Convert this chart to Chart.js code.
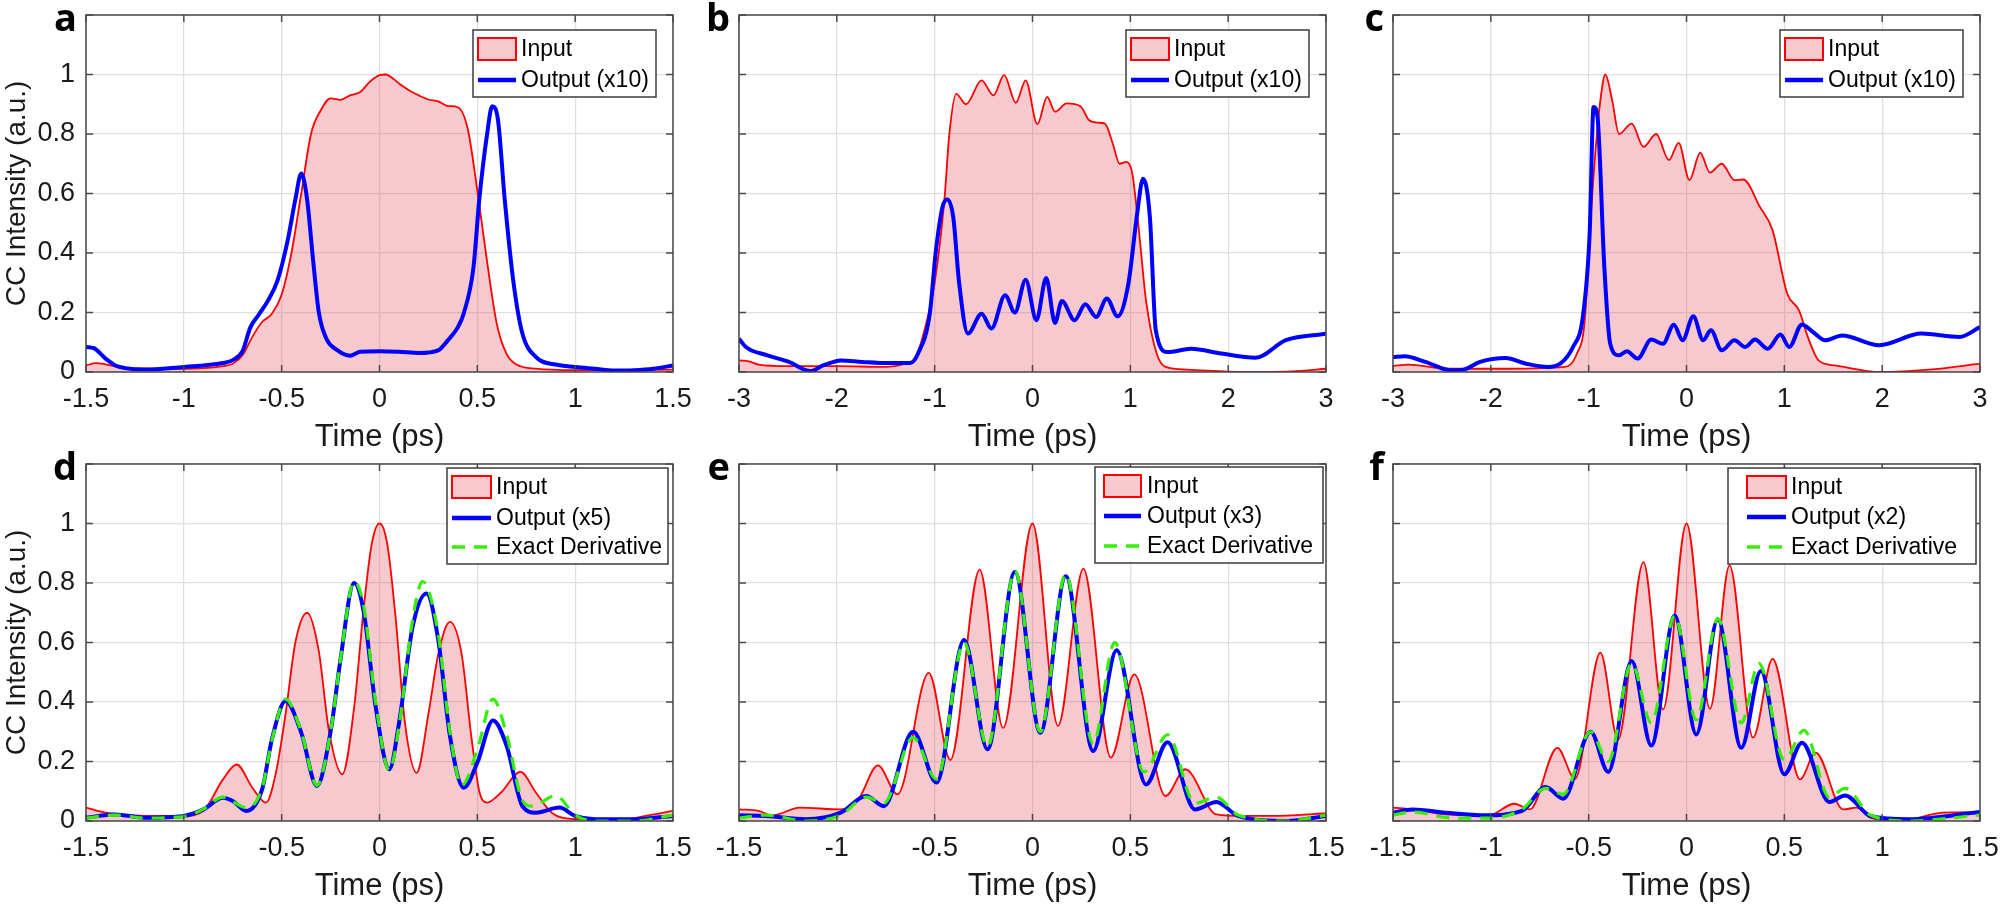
<!DOCTYPE html>
<html>
<head>
<meta charset="utf-8">
<script src="https://cdn.jsdelivr.net/npm/chart.js@4.4.1/dist/chart.umd.min.js"></script>
<style>
  body { margin: 0; background: #fff; width: 2000px; height: 906px; position: relative; overflow: hidden; }
  canvas { position: absolute; }
</style>
</head>
<body>
<script>
// ---- data: [time (ps), CC intensity] ----
const aInput = [[-1.5,0.022],[-1.45,0.03],[-1.4,0.026],[-1.3,0.013],[-1.0,0.011],[-0.8,0.02],[-0.75,0.028],[-0.7,0.056],[-0.65,0.118],[-0.6,0.168],[-0.55,0.196],[-0.5,0.26],[-0.45,0.4],[-0.4,0.6],[-0.35,0.8],[-0.3,0.88],[-0.25,0.92],[-0.2,0.915],[-0.15,0.93],[-0.1,0.94],[-0.05,0.975],[0,0.998],[0.03,1.0],[0.1,0.97],[0.15,0.947],[0.2,0.93],[0.25,0.916],[0.3,0.91],[0.35,0.894],[0.4,0.89],[0.45,0.82],[0.5,0.61],[0.55,0.37],[0.6,0.16],[0.65,0.06],[0.7,0.025],[0.8,0.011],[1.0,0.006],[1.5,0.008]];
const aOutput = [[-1.5,0.084],[-1.46,0.08],[-1.4,0.045],[-1.35,0.022],[-1.3,0.013],[-1.2,0.008],[-1.0,0.017],[-0.9,0.022],[-0.8,0.03],[-0.75,0.04],[-0.7,0.07],[-0.66,0.15],[-0.62,0.19],[-0.57,0.24],[-0.52,0.31],[-0.47,0.44],[-0.43,0.58],[-0.4,0.667],[-0.37,0.58],[-0.34,0.38],[-0.31,0.2],[-0.27,0.11],[-0.22,0.075],[-0.15,0.055],[-0.1,0.068],[0,0.07],[0.1,0.068],[0.2,0.064],[0.3,0.073],[0.35,0.107],[0.4,0.15],[0.43,0.196],[0.48,0.35],[0.51,0.58],[0.55,0.8],[0.576,0.893],[0.605,0.85],[0.64,0.58],[0.685,0.3],[0.73,0.13],[0.8,0.05],[0.9,0.025],[1.0,0.017],[1.1,0.011],[1.2,0.005],[1.3,0.006],[1.4,0.011],[1.5,0.022]];

const bInput = [[-3,0.039],[-2.9,0.036],[-2.8,0.025],[-2.5,0.02],[-2,0.02],[-1.5,0.017],[-1.3,0.028],[-1.2,0.045],[-1.1,0.146],[-1.0,0.3],[-0.9,0.58],[-0.85,0.8],[-0.78,0.935],[-0.68,0.9],[-0.52,0.98],[-0.4,0.93],[-0.29,0.998],[-0.17,0.905],[-0.07,0.98],[0.05,0.833],[0.15,0.925],[0.23,0.875],[0.35,0.903],[0.49,0.893],[0.58,0.846],[0.67,0.838],[0.74,0.835],[0.82,0.768],[0.89,0.7],[0.96,0.706],[1.02,0.667],[1.09,0.468],[1.16,0.241],[1.27,0.061],[1.36,0.017],[1.58,0.008],[2.15,0],[2.7,0.003],[3,0.011]];
const bOutput = [[-3,0.112],[-2.93,0.084],[-2.71,0.056],[-2.49,0.034],[-2.27,0.003],[-2.14,0.022],[-1.96,0.039],[-1.74,0.034],[-1.47,0.03],[-1.25,0.03],[-1.17,0.062],[-1.05,0.196],[-0.99,0.4],[-0.92,0.555],[-0.87,0.58],[-0.81,0.52],[-0.75,0.3],[-0.66,0.129],[-0.52,0.196],[-0.42,0.146],[-0.28,0.258],[-0.18,0.2],[-0.07,0.31],[0.04,0.174],[0.14,0.316],[0.23,0.165],[0.3,0.239],[0.43,0.174],[0.54,0.228],[0.65,0.185],[0.76,0.247],[0.87,0.187],[0.98,0.297],[1.07,0.533],[1.13,0.65],[1.2,0.52],[1.26,0.14],[1.38,0.067],[1.62,0.078],[1.93,0.062],[2.28,0.048],[2.59,0.107],[3,0.129]];

const cInput = [[-3,0.02],[-2.84,0.025],[-2.45,0.011],[-1.81,0.011],[-1.25,0.017],[-1.12,0.062],[-1.04,0.174],[-0.99,0.465],[-0.93,0.745],[-0.88,0.914],[-0.83,1.0],[-0.76,0.914],[-0.69,0.8],[-0.56,0.835],[-0.44,0.757],[-0.31,0.8],[-0.18,0.712],[-0.08,0.77],[0.03,0.645],[0.14,0.737],[0.24,0.67],[0.36,0.7],[0.49,0.645],[0.58,0.647],[0.75,0.555],[0.88,0.476],[1.03,0.263],[1.15,0.207],[1.24,0.118],[1.35,0.039],[1.52,0.022],[1.99,0],[2.48,0.008],[3,0.028]];
const cOutput = [[-3,0.05],[-2.88,0.053],[-2.67,0.034],[-2.41,0.006],[-2.28,0.008],[-2.11,0.034],[-1.85,0.047],[-1.64,0.028],[-1.42,0.017],[-1.29,0.028],[-1.16,0.084],[-1.06,0.185],[-0.99,0.465],[-0.95,0.891],[-0.91,0.858],[-0.84,0.353],[-0.78,0.095],[-0.69,0.056],[-0.61,0.07],[-0.5,0.045],[-0.36,0.109],[-0.24,0.095],[-0.13,0.159],[-0.04,0.107],[0.07,0.187],[0.17,0.107],[0.25,0.14],[0.36,0.073],[0.49,0.107],[0.6,0.084],[0.7,0.109],[0.83,0.078],[0.96,0.126],[1.05,0.084],[1.18,0.16],[1.29,0.135],[1.42,0.107],[1.59,0.123],[1.97,0.09],[2.4,0.129],[2.79,0.118],[3,0.151]];

const dInput = [[-1.5,0.045],[-1.4,0.028],[-1.2,0.017],[-1.0,0.017],[-0.9,0.034],[-0.8,0.14],[-0.73,0.19],[-0.65,0.112],[-0.58,0.062],[-0.53,0.16],[-0.48,0.36],[-0.43,0.6],[-0.37,0.7],[-0.31,0.57],[-0.26,0.31],[-0.19,0.157],[-0.13,0.38],[-0.08,0.72],[-0.04,0.93],[0,1.0],[0.04,0.93],[0.08,0.7],[0.13,0.33],[0.19,0.162],[0.25,0.36],[0.3,0.56],[0.36,0.669],[0.42,0.56],[0.47,0.28],[0.51,0.1],[0.55,0.062],[0.62,0.095],[0.72,0.165],[0.8,0.095],[0.88,0.028],[1.0,0.006],[1.2,0.002],[1.4,0.022],[1.5,0.034]];
const dOutput = [[-1.5,0.011],[-1.35,0.022],[-1.2,0.011],[-1.0,0.017],[-0.9,0.039],[-0.8,0.078],[-0.75,0.067],[-0.68,0.034],[-0.6,0.106],[-0.55,0.274],[-0.48,0.403],[-0.4,0.297],[-0.32,0.118],[-0.25,0.3],[-0.2,0.54],[-0.13,0.8],[-0.08,0.7],[-0.02,0.386],[0.05,0.174],[0.1,0.33],[0.17,0.655],[0.24,0.765],[0.3,0.61],[0.36,0.286],[0.43,0.112],[0.5,0.196],[0.58,0.338],[0.65,0.252],[0.73,0.05],[0.8,0.028],[0.92,0.045],[1.0,0.017],[1.1,0.006],[1.3,0.006],[1.5,0.017]];
const dExact = [[-1.5,0.01],[-1.35,0.02],[-1.2,0.01],[-1.0,0.015],[-0.9,0.04],[-0.8,0.08],[-0.75,0.065],[-0.68,0.045],[-0.6,0.11],[-0.55,0.27],[-0.48,0.41],[-0.4,0.3],[-0.32,0.12],[-0.25,0.3],[-0.2,0.54],[-0.13,0.805],[-0.08,0.72],[-0.02,0.4],[0.05,0.17],[0.1,0.32],[0.17,0.68],[0.22,0.805],[0.3,0.63],[0.36,0.3],[0.42,0.12],[0.5,0.24],[0.58,0.41],[0.65,0.29],[0.73,0.07],[0.78,0.05],[0.9,0.085],[1.0,0.02],[1.1,0.0],[1.3,0.0],[1.5,0.02]];

const eInput = [[-1.5,0.039],[-1.4,0.034],[-1.33,0.019],[-1.19,0.045],[-0.98,0.039],[-0.89,0.073],[-0.79,0.187],[-0.69,0.09],[-0.53,0.498],[-0.42,0.205],[-0.27,0.845],[-0.15,0.313],[0,1.0],[0.13,0.32],[0.26,0.848],[0.4,0.213],[0.52,0.493],[0.68,0.084],[0.78,0.174],[0.94,0.022],[1.08,0.017],[1.3,0.018],[1.5,0.026]];
const eOutput = [[-1.5,0.019],[-1.36,0.017],[-1.16,0.006],[-0.98,0.028],[-0.85,0.084],[-0.76,0.05],[-0.61,0.3],[-0.49,0.129],[-0.35,0.608],[-0.23,0.241],[-0.09,0.837],[0.04,0.297],[0.17,0.823],[0.31,0.235],[0.43,0.574],[0.58,0.123],[0.69,0.265],[0.83,0.039],[0.94,0.064],[1.05,0.017],[1.3,0.0],[1.5,0.017]];
const eExact = [[-1.5,0.01],[-1.36,0.02],[-1.16,0.0],[-0.98,0.02],[-0.85,0.08],[-0.76,0.06],[-0.61,0.28],[-0.49,0.14],[-0.35,0.6],[-0.23,0.25],[-0.09,0.84],[0.04,0.3],[0.17,0.83],[0.31,0.26],[0.42,0.6],[0.57,0.165],[0.69,0.29],[0.83,0.06],[0.94,0.08],[1.05,0.02],[1.3,0.0],[1.5,0.02]];

const fInput = [[-1.5,0.045],[-1.4,0.039],[-1.23,0.022],[-1.01,0.019],[-0.88,0.058],[-0.8,0.039],[-0.66,0.246],[-0.57,0.142],[-0.44,0.566],[-0.35,0.274],[-0.22,0.87],[-0.12,0.375],[0,1.0],[0.12,0.377],[0.22,0.859],[0.34,0.28],[0.44,0.545],[0.58,0.14],[0.66,0.23],[0.8,0.039],[0.87,0.045],[0.94,0.011],[1.09,0],[1.31,0.028],[1.5,0.03]];
const fOutput = [[-1.5,0.028],[-1.4,0.039],[-1.23,0.028],[-1.03,0.019],[-0.84,0.034],[-0.72,0.114],[-0.63,0.075],[-0.49,0.3],[-0.4,0.165],[-0.28,0.538],[-0.18,0.254],[-0.06,0.691],[0.05,0.291],[0.16,0.677],[0.28,0.246],[0.38,0.504],[0.5,0.157],[0.59,0.263],[0.73,0.064],[0.81,0.086],[0.94,0.017],[1.14,0.006],[1.5,0.03]];
const fExact = [[-1.5,0.02],[-1.4,0.03],[-1.2,0.01],[-1.0,0.01],[-0.84,0.04],[-0.72,0.11],[-0.63,0.09],[-0.49,0.3],[-0.4,0.2],[-0.28,0.53],[-0.18,0.33],[-0.06,0.69],[0.05,0.34],[0.16,0.68],[0.28,0.33],[0.37,0.53],[0.5,0.205],[0.6,0.305],[0.73,0.08],[0.81,0.11],[0.94,0.02],[1.14,0.0],[1.5,0.02]];

const outputLabels = ['Output (x10)', 'Output (x10)', 'Output (x10)', 'Output (x5)', 'Output (x3)', 'Output (x2)'];
const yTicks = [0, 0.2, 0.4, 0.6, 0.8, 1];

// ---- layout ----
const FONT = '"Liberation Sans", Arial, sans-serif';
const INK = '#1a1a1a';
const colLeft = [86, 739, 1393];
const rowTop = [15, 464];
const CW = 693, CH = 457;

const legTop = { bx: 387, by: 15, bw: 183, bh: 67, px0: 392, px1: 430, tx: 435, rows: [34, 65] };
const legD = { bx: 361, by: 4, bw: 221, bh: 96, px0: 366, px1: 405, tx: 410, rows: [23, 54, 83] };
const legE = { bx: 356, by: 3, bw: 228, bh: 96, px0: 365, px1: 402, tx: 408, rows: [22, 52, 82] };
const legF = { bx: 335, by: 4, bw: 248, bh: 96, px0: 354, px1: 393, tx: 398, rows: [23, 53, 83] };

const panels = [
  { tag: 'a', col: 0, row: 0, xr: 1.5, step: 0.5, input: aInput, output: aOutput, leg: legTop, yl: true },
  { tag: 'b', col: 1, row: 0, xr: 3, step: 1, input: bInput, output: bOutput, leg: legTop },
  { tag: 'c', col: 2, row: 0, xr: 3, step: 1, input: cInput, output: cOutput, leg: legTop },
  { tag: 'd', col: 0, row: 1, xr: 1.5, step: 0.5, input: dInput, output: dOutput, exact: dExact, leg: legD, yl: true },
  { tag: 'e', col: 1, row: 1, xr: 1.5, step: 0.5, input: eInput, output: eOutput, exact: eExact, leg: legE },
  { tag: 'f', col: 2, row: 1, xr: 1.5, step: 0.5, input: fInput, output: fOutput, exact: fExact, leg: legF },
];

const PINK = 'rgba(215, 40, 55, 0.25)';
const fmt = v => String(Math.round(v * 10) / 10);
const pts = arr => arr.map(p => ({ x: p[0], y: p[1] }));

// frame with inward ticks, panel letter
const framePlugin = {
  id: 'frame',
  afterDatasetsDraw(chart) {
    const { ctx, chartArea: a, scales } = chart;
    ctx.save();
    ctx.strokeStyle = '#4a4a4a';
    ctx.lineWidth = 1.5;
    ctx.beginPath();
    scales.x.ticks.forEach(t => {
      const px = scales.x.getPixelForValue(t.value);
      ctx.moveTo(px, a.bottom); ctx.lineTo(px, a.bottom - 7);
      ctx.moveTo(px, a.top); ctx.lineTo(px, a.top + 7);
    });
    scales.y.ticks.forEach(t => {
      const py = scales.y.getPixelForValue(t.value);
      ctx.moveTo(a.left, py); ctx.lineTo(a.left + 7, py);
      ctx.moveTo(a.right, py); ctx.lineTo(a.right - 7, py);
    });
    ctx.stroke();
    ctx.strokeRect(a.left, a.top, a.right - a.left, a.bottom - a.top);
    ctx.fillStyle = '#000';
    ctx.font = 'bold 38px "Open Sans", sans-serif';
    ctx.textAlign = 'right';
    ctx.textBaseline = 'alphabetic';
    ctx.fillText(chart.options.plugins.frame.tag, a.left - 9, a.top + 16);
    ctx.restore();
  }
};

// MATLAB-style boxed legend inside the axes
const boxLegend = {
  id: 'boxLegend',
  afterDraw(chart) {
    const L = chart.options.plugins.boxLegend;
    const { ctx, chartArea: a } = chart;
    ctx.save();
    ctx.fillStyle = '#fff';
    ctx.fillRect(a.left + L.bx, a.top + L.by, L.bw, L.bh);
    ctx.strokeStyle = '#3c3c3c';
    ctx.lineWidth = 1.5;
    ctx.strokeRect(a.left + L.bx, a.top + L.by, L.bw, L.bh);
    ctx.font = '23px ' + FONT;
    ctx.textBaseline = 'middle';
    ctx.textAlign = 'left';
    chart.data.datasets.forEach((ds, i) => {
      const y = a.top + L.rows[i];
      const x0 = a.left + L.px0, x1 = a.left + L.px1;
      if (i === 0) {
        ctx.fillStyle = PINK;
        ctx.fillRect(x0, y - 11, x1 - x0, 22);
        ctx.strokeStyle = '#ff0000';
        ctx.lineWidth = 2;
        ctx.strokeRect(x0, y - 11, x1 - x0, 22);
      } else {
        ctx.strokeStyle = ds.borderColor;
        ctx.lineWidth = ds.borderWidth + 0.5;
        ctx.setLineDash(ds.borderDash || []);
        ctx.beginPath();
        ctx.moveTo(x0, y); ctx.lineTo(x1, y);
        ctx.stroke();
        ctx.setLineDash([]);
      }
      ctx.fillStyle = '#000';
      ctx.fillText(ds.label, a.left + L.tx, y + 1);
    });
    ctx.restore();
  }
};

panels.forEach((p, k) => {
  const cv = document.createElement('canvas');
  cv.width = CW; cv.height = CH;
  cv.style.left = (colLeft[p.col] - 86) + 'px';
  cv.style.top = (rowTop[p.row] - 15) + 'px';
  document.body.appendChild(cv);

  const datasets = [
    { label: 'Input', data: pts(p.input), borderColor: '#ff0000', borderWidth: 1.8,
      backgroundColor: PINK, fill: 'origin', order: 3 },
    { label: outputLabels[k], data: pts(p.output), borderColor: '#0000ff', borderWidth: 4,
      fill: false, order: 2 },
  ];
  if (p.exact) {
    datasets.push({ label: 'Exact Derivative', data: pts(p.exact), borderColor: '#33f000', borderWidth: 3.2,
      borderDash: [13, 9], fill: false, order: 1 });
  }
  datasets.forEach(ds => { ds.pointRadius = 0; ds.cubicInterpolationMode = 'monotone'; });

  const grid = { color: '#e0e0e0', lineWidth: 1.3, drawTicks: false };
  new Chart(cv, {
    type: 'line',
    data: { datasets },
    options: {
      responsive: false, animation: false, devicePixelRatio: 1,
      layout: { padding: { left: 0, right: 20, top: 15, bottom: 0 } },
      plugins: { legend: { display: false }, tooltip: { enabled: false },
                 frame: { tag: p.tag }, boxLegend: p.leg },
      scales: {
        x: {
          type: 'linear', min: -p.xr, max: p.xr,
          ticks: { stepSize: p.step, autoSkip: false, maxRotation: 0, padding: 11,
                   color: INK, font: { size: 27, family: FONT }, callback: v => fmt(v) },
          grid, border: { display: false },
          title: { display: true, text: 'Time (ps)', color: INK,
                   font: { size: 31, family: FONT, lineHeight: 1.2 }, padding: { top: 0, bottom: 1 } },
          afterFit(s) { s.height = 85; s.paddingLeft = 0; s.paddingRight = 0; }
        },
        y: {
          type: 'linear', min: 0, max: 1.2,
          afterBuildTicks(s) { s.ticks = yTicks.concat([1.2]).map(v => ({ value: v })); },
          ticks: { display: !!p.yl, padding: 11, color: INK, font: { size: 27, family: FONT },
                   callback: v => (v > 1.1 ? '' : fmt(v)) },
          grid, border: { display: false },
          title: { display: !!p.yl, text: 'CC Intensity (a.u.)', color: INK,
                   font: { size: 28, family: FONT, lineHeight: 1.2 }, padding: { top: 0, bottom: 0 } },
          afterFit(s) { s.width = 86; s.paddingTop = 0; s.paddingBottom = 0; }
        }
      }
    },
    plugins: [framePlugin, boxLegend]
  });
});
</script>
</body>
</html>
